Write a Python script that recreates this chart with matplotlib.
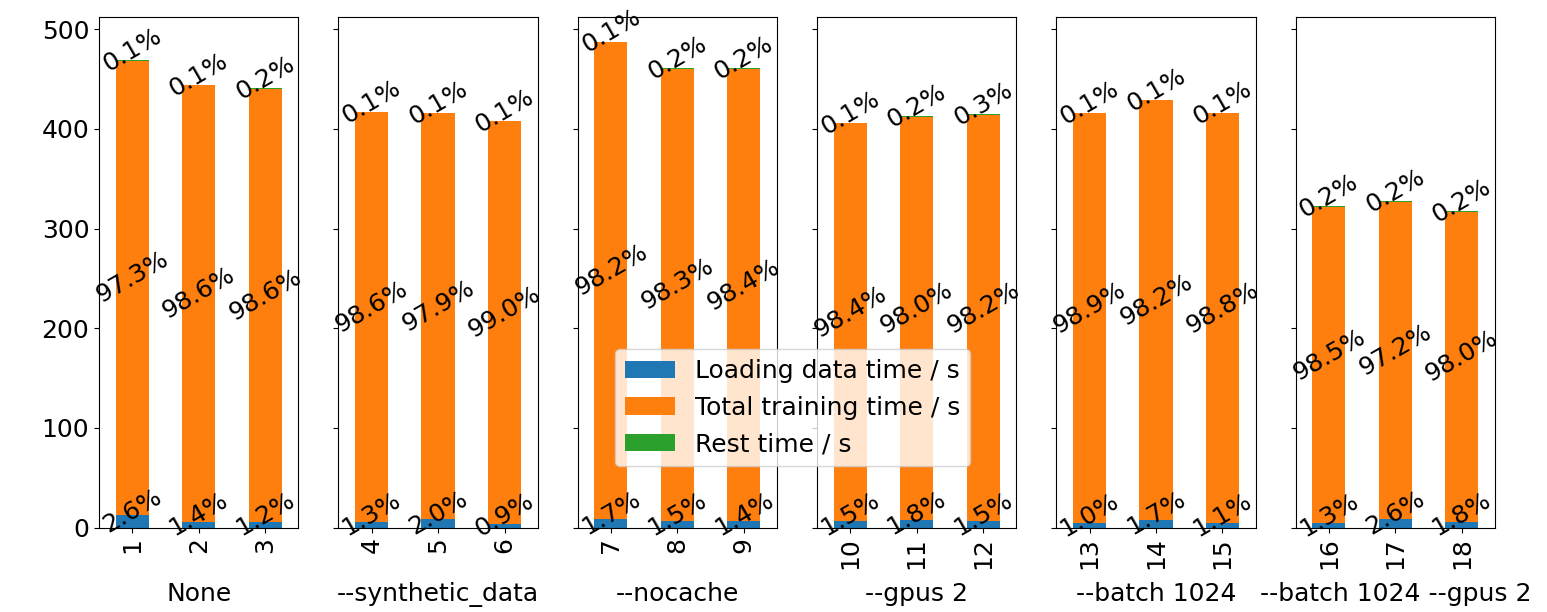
import matplotlib
matplotlib.use('Agg')
import matplotlib.pyplot as plt
import numpy as np

plt.rcParams['font.size'] = 18

# группы экспериментов (подписи под осями)
groups = ['None', '--synthetic_data', '--nocache', '--gpus 2', '--batch 1024', '--batch 1024 --gpus 2']
runs = list(range(1, 19))

# время по каждому запуску, секунды
loading_time = [12.19, 6.05, 5.29, 5.42, 8.32, 3.67, 8.29, 6.92, 6.45,
                6.09, 7.43, 6.23, 4.16, 7.29, 4.58, 4.19, 8.52, 5.72]
training_time = [456.34, 437.68, 434.83, 411.16, 407.26, 403.92, 478.72, 453.16, 453.63,
                 399.5, 404.74, 407.52, 411.42, 421.28, 411.0, 317.66, 318.32, 311.14]
rest_time = [0.47, 0.27, 0.88, 0.42, 0.42, 0.41, 0.49, 0.92, 0.92,
             0.41, 0.83, 1.25, 0.42, 0.43, 0.42, 0.65, 0.66, 0.64]

series = [('Loading data time / s', loading_time, 'C0'),
          ('Total training time / s', training_time, 'C1'),
          ('Rest time / s', rest_time, 'C2')]

fig, axes = plt.subplots(1, len(groups), sharey=True, figsize=(15.47, 6.12), dpi=100)
fig.subplots_adjust(left=0.064, right=0.9664, bottom=0.138, top=0.9717, wspace=0.2)

for g, ax in enumerate(axes):
    idx = list(range(g * 3, g * 3 + 3))
    x = np.arange(len(idx))
    bottom = np.zeros(len(idx))
    total = np.array([loading_time[i] + training_time[i] + rest_time[i] for i in idx])
    for name, values, color in series:
        h = np.array([values[i] for i in idx])
        ax.bar(x, h, 0.5, bottom=bottom, color=color, label=name)
        for xi, hi, bi, ti in zip(x, h, bottom, total):
            ax.annotate(f'{hi / ti * 100:.1f}%', (xi, bi + hi / 2), xytext=(0, 7.5),
                        textcoords='offset points', ha='center', va='center', rotation=30)
        bottom = bottom + h
    ax.set_xticks(x)
    ax.set_xticklabels([str(runs[i]) for i in idx], rotation=90)
    ax.set_xlim(-0.5, len(idx) - 0.5)
    ax.set_xlabel(groups[g], labelpad=9)

fig.align_xlabels(axes)

handles, labels = axes[0].get_legend_handles_labels()
fig.legend(handles, labels, loc='center', bbox_to_anchor=(0.5123, 0.334))

plt.savefig('out.png')
